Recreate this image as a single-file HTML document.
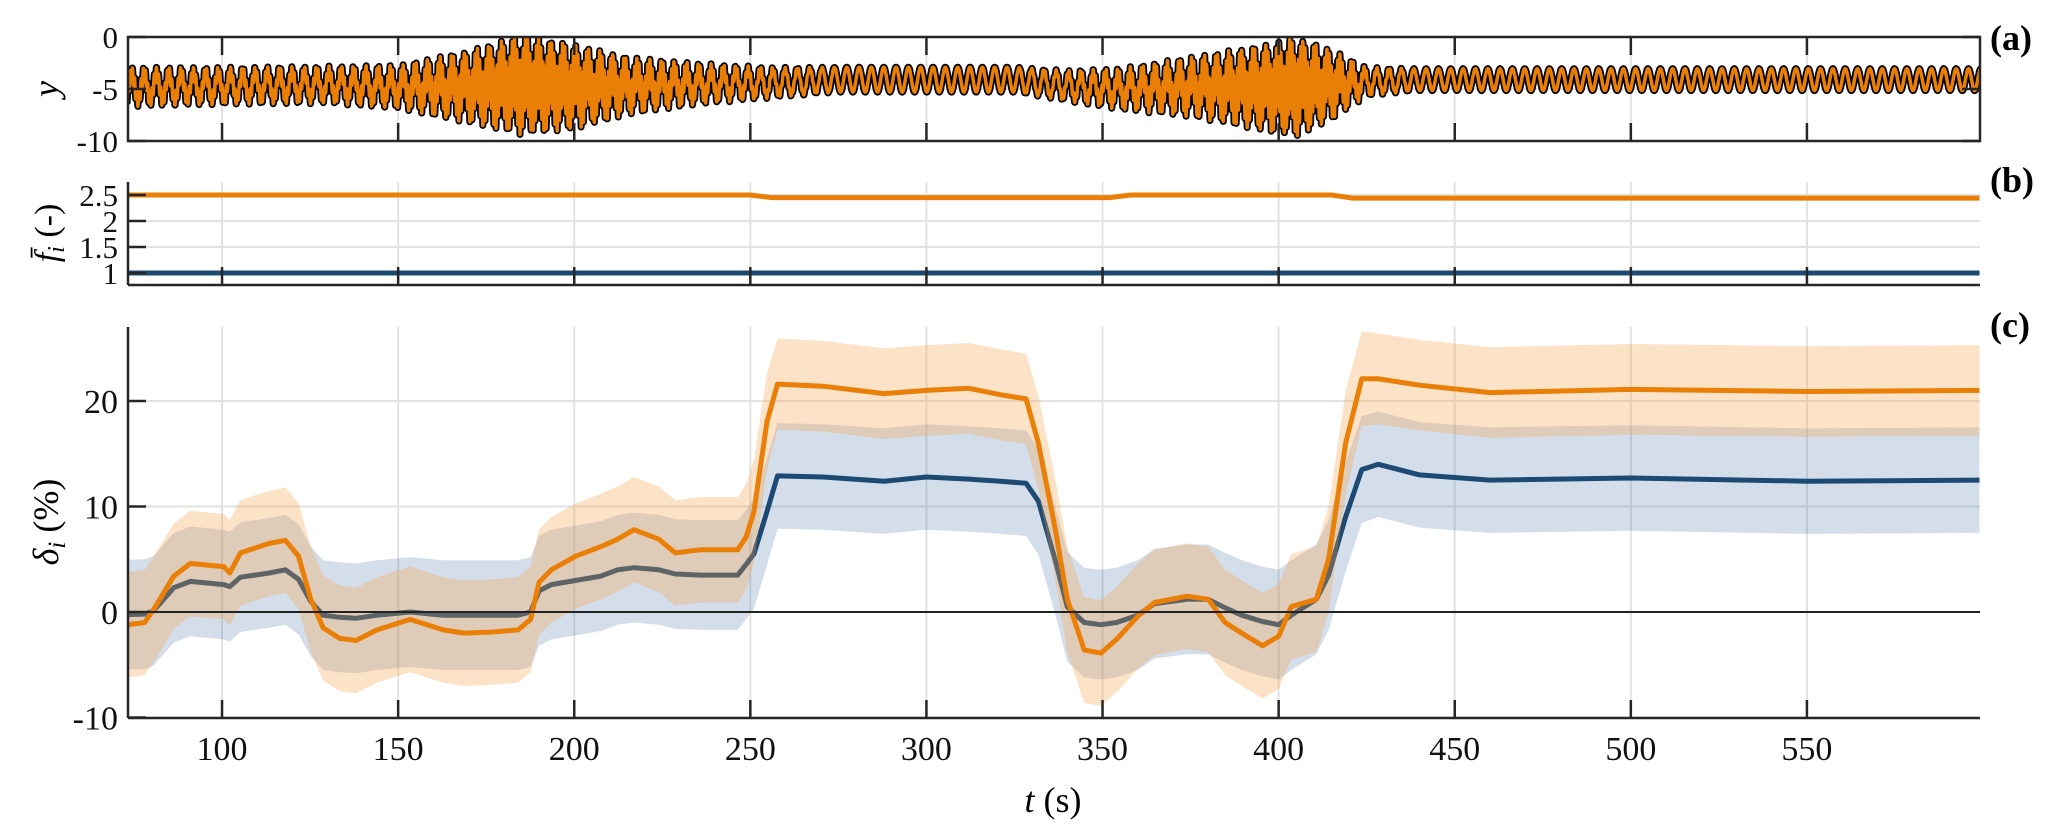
<!DOCTYPE html>
<html><head><meta charset="utf-8">
<style>
html,body{margin:0;padding:0;background:#fff;}
svg{display:block;font-family:"Liberation Serif",serif;}
</style></head>
<body>
<svg id="fig" width="2067" height="835" viewBox="0 0 2067 835" xmlns="http://www.w3.org/2000/svg">
<defs>
<clipPath id="clipA"><rect x="128" y="37" width="1852" height="104"/></clipPath>
<clipPath id="clipB"><rect x="128" y="182" width="1852" height="103"/></clipPath>
<clipPath id="clipC"><rect x="128" y="327" width="1852" height="391"/></clipPath>
</defs>
<g id="grid"></g>
<g id="marksC" clip-path="url(#clipC)"></g>
<g id="marksB" clip-path="url(#clipB)"></g>
<g id="marksA" clip-path="url(#clipA)"></g>
<g id="axes"></g>
<text x="1053" y="812" font-size="36" text-anchor="middle"><tspan font-style="italic">t</tspan> (s)</text>
<text transform="translate(58,89) rotate(-90)" font-size="36" font-style="italic" text-anchor="middle">y</text>
<text transform="translate(58,233) rotate(-90)" font-size="34" text-anchor="middle"><tspan font-style="italic">f̄</tspan><tspan font-style="italic" font-size="24" dy="6">i</tspan><tspan dy="-6"> (-)</tspan></text>
<text transform="translate(58,522) rotate(-90)" font-size="36" text-anchor="middle"><tspan font-style="italic">δ</tspan><tspan font-style="italic" font-size="25" dy="7">i</tspan><tspan dy="-7"> (%)</tspan></text>
<text x="1990" y="50" font-size="36" font-weight="bold">(a)</text>
<text x="1990" y="192" font-size="36" font-weight="bold">(b)</text>
<text x="1990" y="337" font-size="36" font-weight="bold">(c)</text>
</svg>
<script>
// ---- Panel (c) data ----
const tC = [73.4,78,80.5,86.3,91,100.5,102.2,105.2,113.4,118,121.7,125.2,128.7,133.4,138,144,153.4,162.8,168.7,177,184,187.6,190,193.5,200.5,207.6,212.3,217,224,228.7,235.8,246.4,248.8,251,254.7,257.7,270.6,288,300,312,321,328.3,331.8,336.5,340,344.8,349.5,354,360,364.8,374,380,384.8,389.5,395.4,400,403.6,410.7,414.2,419,423.6,428.3,440,460,500,550,599];
const deltaOrange = [-1.2,-1.0,0.2,3.4,4.6,4.3,3.7,5.6,6.5,6.8,5.3,1.2,-1.5,-2.5,-2.7,-1.7,-0.7,-1.7,-2.0,-1.9,-1.7,-0.7,2.8,4.0,5.3,6.2,6.9,7.8,6.9,5.6,5.9,5.9,7.1,9.5,18.0,21.6,21.4,20.7,21.0,21.2,20.6,20.2,16,8,1.2,-3.6,-3.9,-2.6,-0.4,0.9,1.5,1.2,-1.0,-2.0,-3.2,-2.3,0.5,1.2,5,16,22.1,22.1,21.5,20.8,21.1,20.9,21.0];
const deltaBlue = [-0.25,-0.2,0.1,2.3,2.9,2.6,2.4,3.3,3.7,4.0,3.1,1.0,-0.3,-0.5,-0.6,-0.3,0.0,-0.3,-0.3,-0.3,-0.3,0.0,2.0,2.6,3.0,3.4,4.0,4.2,4.0,3.6,3.5,3.5,4.5,5.5,9.5,12.9,12.8,12.4,12.8,12.6,12.4,12.2,10.5,5,0.5,-1.0,-1.2,-1.0,-0.3,0.8,1.2,1.2,0.4,-0.3,-0.9,-1.2,-0.3,1.2,3.5,9,13.5,14.0,13.0,12.5,12.7,12.4,12.5];
const sigT = [73,250,258,330,340,418,426,599];
const sigOrange = [5,5,4.3,4.3,5,5,4.3,4.3];
const sigBlue = [5.2,5.2,5,5,5.2,5.2,5,5];
const yTicksC = [-10,0,10,20];
// ---- Panel (b) data ----
const tB = [73,250,256,352,358,415,421,599];
const fOrange = [2.5,2.5,2.45,2.45,2.5,2.5,2.44,2.44];
const fBlue = [1,1,1,1,1,1,1,1];
const yTicksB = [1,1.5,2,2.5];
const yTickLabelsB = ["1","1.5","2","2.5"];
// ---- Panel (a) data (signal envelope) ----
const tA = [73,100,130,150,170,185,200,215,235,255,275,325,340,355,375,395,405,415,425,440,600];
const yCenter = [-4.8,-4.7,-4.6,-4.8,-4.8,-4.6,-4.8,-4.7,-4.5,-4.4,-4.1,-4.1,-4.7,-5.0,-4.8,-4.9,-4.8,-4.6,-4.3,-4.1,-4.1];
const ySlowAmp = [1.2,1.2,1.2,1.2,1.3,1.3,1.3,1.2,1.2,1.2,1.2,1.2,1.2,1.2,1.3,1.3,1.3,1.2,1.1,1.05,1.05];
const yFastAmp = [0.7,0.6,0.6,0.9,2.2,3.5,2.8,1.6,0.8,0.3,0,0,0.3,0.8,1.6,2.8,3.5,2.2,0.3,0,0];
const yTicksA = [0,-5,-10];
const xTicks = [100,150,200,250,300,350,400,450,500,550];

const NS = "http://www.w3.org/2000/svg";
const X0 = 128, X1 = 1980;
function xs(t){ return X0 + (t - 73.3) * 3.522; }
function yA(v){ return 37 - v * 10.4; }
function yB(v){ return 273 - (v - 1) * 52; }
function yC(v){ return 612 - v * 10.55; }
function interp(T, V, t){
  if (t <= T[0]) return V[0];
  for (let i = 1; i < T.length; i++) if (t <= T[i]) { const f = (t - T[i-1]) / (T[i] - T[i-1]); return V[i-1] + f * (V[i] - V[i-1]); }
  return V[V.length - 1];
}
function mk(tag, attrs, parent){
  const el = document.createElementNS(NS, tag);
  for (const k in attrs) el.setAttribute(k, attrs[k]);
  parent.appendChild(el);
  return el;
}
const grid = document.getElementById('grid');
const axes = document.getElementById('axes');
const gA = document.getElementById('marksA'), gB = document.getElementById('marksB'), gC = document.getElementById('marksC');
const GRID = '#e2e2e2', AX = '#262626';

// panel bounds
const P = { a:{top:37,bot:141}, b:{top:182,bot:285}, c:{top:327,bot:718} };

// vertical grid + x ticks
xTicks.forEach(t => {
  const x = xs(t);
  ['a','b','c'].forEach(p => {
    const g = mk('line', {x1:x, x2:x, y1:P[p].top, y2:P[p].bot, stroke:GRID, 'stroke-width':2}, grid);
    
    
    const tk = mk('line', {x1:x, x2:x, y1:P[p].bot, y2:P[p].bot - 18, stroke:AX, 'stroke-width':2.5}, axes);
    
    
  });
  const tt = mk('line', {x1:x, x2:x, y1:P.a.top, y2:P.a.top + 18, stroke:AX, 'stroke-width':2.5}, axes);
  
  
  const lb = mk('text', {x:x, y:760, 'font-size':34, 'text-anchor':'middle', fill:'#111'}, axes);
  lb.textContent = t;
  
  
});

// y grid/ticks panel a
yTicksA.forEach(v => {
  const y = yA(v);
  const g = mk('line', {x1:X0, x2:X1, y1:y, y2:y, stroke:GRID, 'stroke-width':2}, grid);
  
  
  const t1 = mk('line', {x1:X0, x2:X0 + 18, y1:y, y2:y, stroke:AX, 'stroke-width':2.5}, axes);
  
  
  const t2 = mk('line', {x1:X1, x2:X1 - 18, y1:y, y2:y, stroke:AX, 'stroke-width':2.5}, axes);
  
  
  const lb = mk('text', {x:118, y:y + 11, 'font-size':31, 'text-anchor':'end', fill:'#111'}, axes);
  lb.textContent = String(v);
  
  
});
// panel b
yTicksB.forEach((v, i) => {
  const y = yB(v);
  const g = mk('line', {x1:X0, x2:X1, y1:y, y2:y, stroke:GRID, 'stroke-width':2}, grid);
  
  
  const t1 = mk('line', {x1:X0, x2:X0 + 18, y1:y, y2:y, stroke:AX, 'stroke-width':2.5}, axes);
  
  
  const lb = mk('text', {x:118, y:y + 11, 'font-size':31, 'text-anchor':'end', fill:'#111'}, axes);
  lb.textContent = yTickLabelsB[i];
  
  
});
// panel c
yTicksC.forEach(v => {
  const y = yC(v);
  const g = mk('line', {x1:X0, x2:X1, y1:y, y2:y, stroke:GRID, 'stroke-width':2}, grid);
  
  
  const t1 = mk('line', {x1:X0, x2:X0 + 18, y1:y, y2:y, stroke:AX, 'stroke-width':2.5}, axes);
  
  
  const lb = mk('text', {x:118, y:y + 12, 'font-size':34, 'text-anchor':'end', fill:'#111'}, axes);
  lb.textContent = String(v);
  
  
});

// axis lines
const boxA = mk('rect', {x:X0, y:P.a.top, width:X1 - X0, height:P.a.bot - P.a.top, fill:'none', stroke:AX, 'stroke-width':2.5}, axes);


[['b'],['c']].forEach(([p]) => {
  const l1 = mk('line', {x1:X0, x2:X0, y1:P[p].top, y2:P[p].bot, stroke:AX, 'stroke-width':2.5}, axes);
  
  
  const l2 = mk('line', {x1:X0, x2:X1, y1:P[p].bot, y2:P[p].bot, stroke:AX, 'stroke-width':2.5}, axes);
  
  
});

// ---- Panel (c) marks ----
function linePath(T, V, ys){
  return V.map((v, i) => (i ? 'L' : 'M') + xs(T[i]).toFixed(1) + ',' + ys(v).toFixed(1)).join(' ');
}
function bandPath(T, V, sigT_, sig, ys){
  const up = T.map((t, i) => xs(t).toFixed(1) + ',' + ys(V[i] + interp(sigT_, sig, t)).toFixed(1));
  const lo = T.map((t, i) => xs(t).toFixed(1) + ',' + ys(V[i] - interp(sigT_, sig, t)).toFixed(1)).reverse();
  return 'M' + up.join(' L') + ' L' + lo.join(' L') + ' Z';
}
const bandB = mk('path', {d:bandPath(tC, deltaBlue, sigT, sigBlue, yC), fill:'rgb(60,105,160)', 'fill-opacity':0.22, stroke:'none'}, gC);


const lineBl = mk('path', {d:linePath(tC, deltaBlue, yC), fill:'none', stroke:'#1d4a73', 'stroke-width':5, 'stroke-linejoin':'round'}, gC);


const bandO = mk('path', {d:bandPath(tC, deltaOrange, sigT, sigOrange, yC), fill:'rgb(245,160,70)', 'fill-opacity':0.3, stroke:'none'}, gC);


const lineOr = mk('path', {d:linePath(tC, deltaOrange, yC), fill:'none', stroke:'#ea7f07', 'stroke-width':5, 'stroke-linejoin':'round'}, gC);


const zero = mk('line', {x1:X0, x2:X1, y1:yC(0), y2:yC(0), stroke:'#222', 'stroke-width':2}, gC);



// ---- Panel (b) marks ----
const fB = mk('path', {d:linePath(tB, fBlue, yB), fill:'none', stroke:'#1d4a73', 'stroke-width':5}, gB);


const fO = mk('path', {d:linePath(tB, fOrange, yB), fill:'none', stroke:'#ea7f07', 'stroke-width':5}, gB);



// ---- Panel (a) marks: oscillating signal built from envelope arrays ----
let dA = '';
for (let t = 73; t <= 600; t += 0.08) {
  const v = interp(tA, yCenter, t) + interp(tA, ySlowAmp, t) * Math.sin(2 * Math.PI * t / 3.5) + interp(tA, yFastAmp, t) * Math.sin(2 * Math.PI * t / 0.62);
  dA += (dA ? 'L' : 'M') + xs(t).toFixed(1) + ',' + yA(v).toFixed(1);
}
const sigBk = mk('path', {d:dA, fill:'none', stroke:'#000', 'stroke-width':7, 'stroke-linejoin':'round'}, gA);


const sigOr = mk('path', {d:dA, fill:'none', stroke:'#ea7f07', 'stroke-width':3.5, 'stroke-linejoin':'round'}, gA);


</script>
</body></html>
